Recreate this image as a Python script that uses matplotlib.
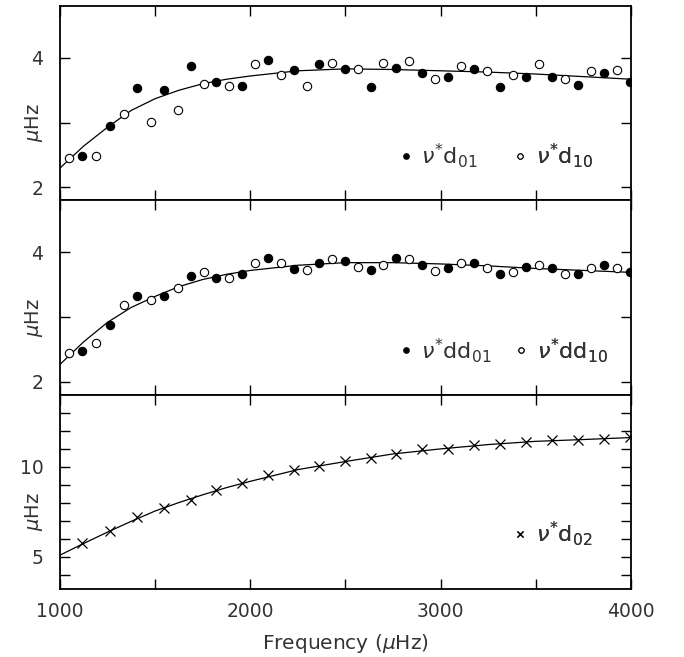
import numpy as np
import matplotlib.pyplot as plt
from matplotlib.lines import Line2D

# frequencies (muHz) of the two interleaved sets
f_open = [1047, 1191, 1335, 1478, 1618, 1755, 1890, 2026, 2161, 2296, 2431,
          2564, 2699, 2834, 2971, 3106, 3242, 3379, 3515, 3652, 3789, 3925]
f_fill = [1117, 1263, 1406, 1547, 1687, 1821, 1958, 2093, 2228, 2363, 2498,
          2633, 2767, 2902, 3037, 3174, 3311, 3447, 3584, 3720, 3857, 3997]

# top panel: nu* d01 (filled), nu* d10 (open)
d01 = [2.48, 2.95, 3.53, 3.51, 3.88, 3.62, 3.57, 3.97, 3.81, 3.91, 3.83,
       3.55, 3.85, 3.76, 3.71, 3.83, 3.55, 3.70, 3.71, 3.58, 3.77, 3.62]
d10 = [2.45, 2.48, 3.13, 3.01, 3.19, 3.60, 3.57, 3.90, 3.73, 3.56, 3.92,
       3.83, 3.92, 3.95, 3.68, 3.88, 3.80, 3.73, 3.90, 3.67, 3.79, 3.81]

# middle panel: nu* dd01 (filled), nu* dd10 (open)
dd01 = [2.48, 2.88, 3.32, 3.32, 3.64, 3.61, 3.66, 3.91, 3.74, 3.83, 3.86,
        3.72, 3.91, 3.80, 3.75, 3.84, 3.66, 3.77, 3.76, 3.66, 3.80, 3.69]
dd10 = [2.45, 2.60, 3.19, 3.27, 3.45, 3.69, 3.60, 3.84, 3.83, 3.72, 3.90,
        3.77, 3.81, 3.89, 3.71, 3.83, 3.75, 3.69, 3.81, 3.66, 3.75, 3.76]

# bottom panel: nu* d02
d02 = [5.75, 6.42, 7.21, 7.73, 8.17, 8.69, 9.08, 9.55, 9.85, 10.04, 10.30,
       10.50, 10.74, 10.97, 11.02, 11.19, 11.28, 11.38, 11.47, 11.49, 11.54, 11.66]

# fitted curves
f_fit = [1000, 1125, 1250, 1375, 1500, 1625, 1750, 1875, 2000, 2250, 2500,
         2750, 3000, 3250, 3500, 3750, 4000]
fit_d = [2.30, 2.64, 2.93, 3.19, 3.37, 3.50, 3.60, 3.67, 3.72, 3.80, 3.83,
         3.82, 3.80, 3.78, 3.75, 3.71, 3.67]
fit_dd = [2.27, 2.62, 2.92, 3.15, 3.32, 3.47, 3.58, 3.66, 3.72, 3.80, 3.84,
          3.84, 3.82, 3.79, 3.75, 3.72, 3.69]
fit_02 = [5.10, 5.75, 6.38, 6.98, 7.55, 8.02, 8.45, 8.85, 9.20, 9.85, 10.30,
          10.72, 11.00, 11.24, 11.42, 11.52, 11.63]

txt = '#333333'
plt.rcParams['font.family'] = ['DejaVu Sans']
plt.rcParams['mathtext.fontset'] = 'dejavusans'

fig = plt.figure(figsize=(6.84, 6.57), dpi=100)
gs = fig.add_gridspec(3, 1, left=0.0877, right=0.9225, top=0.9909,
                      bottom=0.1030, hspace=0)
axes = [fig.add_subplot(gs[i]) for i in range(3)]

ms = 6.0
for ax, yf, yo, fit in [(axes[0], d01, d10, fit_d),
                        (axes[1], dd01, dd10, fit_dd)]:
    ax.plot(f_fit, fit, color='black', lw=0.9)
    ax.plot(f_fill, yf, 'o', color='black', ms=ms, mec='black', mew=0.8)
    ax.plot(f_open, yo, 'o', mfc='white', ms=ms, mec='black', mew=0.8)
    ax.set_ylim(1.8, 4.8)
    ax.set_yticks([2, 3, 4], ['2', '', '4'])

axes[2].plot(f_fit, fit_02, color='black', lw=0.9)
axes[2].plot(f_fill, d02, 'x', color='black', ms=7, mew=0.9)
axes[2].set_ylim(3.2, 14.0)
axes[2].set_yticks(range(4, 14), ['' if v not in (5, 10) else str(v) for v in range(4, 14)])

for i, ax in enumerate(axes):
    ax.set_xlim(1000, 4000)
    ax.set_xticks(np.arange(1000, 4001, 500))
    if i < 2:
        ax.set_xticklabels([])
    else:
        ax.set_xticklabels(['1000', '', '2000', '', '3000', '', '4000'])
    ax.tick_params(direction='in', length=7.5, width=1.0, top=True, right=True,
                   labelsize=13.5, colors='black', labelcolor=txt)
    ax.tick_params(axis='y', pad=12)
    ax.tick_params(axis='x', pad=9)
    for s in ax.spines.values():
        s.set_linewidth(1.3)
    ax.set_ylabel(r'$\mu$Hz', fontsize=14, color=txt)
    ax.yaxis.set_label_coords(-0.027, 0.40)

axes[2].set_xlabel(r'Frequency ($\mu$Hz)', fontsize=14.5, color=txt, labelpad=8)


def add_entry(ax, handle, label, x, y):
    # one legend per entry so each marker sits where it does in the original
    leg = ax.legend([handle], [label], loc='center left', bbox_to_anchor=(x, y),
                    frameon=False, fontsize=16, borderpad=0, borderaxespad=0,
                    handlelength=0.6, handletextpad=0.4, labelcolor=txt)
    ax.add_artist(leg)


h_fill = Line2D([], [], ls='none', marker='o', color='black', ms=3.8)
h_open = Line2D([], [], ls='none', marker='o', mfc='white', mec='black', ms=3.8, mew=0.8)
h_x = Line2D([], [], ls='none', marker='x', color='black', ms=5, mew=0.9)

add_entry(axes[0], h_fill, r'$\nu^{*}\mathrm{d}_{01}$', 0.594, 0.23)
add_entry(axes[0], h_open, r'$\nu^{*}\mathrm{d}_{10}$', 0.794, 0.23)
add_entry(axes[1], h_fill, r'$\nu^{*}\mathrm{dd}_{01}$', 0.594, 0.23)
add_entry(axes[1], h_open, r'$\nu^{*}\mathrm{dd}_{10}$', 0.796, 0.23)
add_entry(axes[2], h_x, r'$\nu^{*}\mathrm{d}_{02}$', 0.794, 0.285)

fig.savefig('out.png', dpi=100)
